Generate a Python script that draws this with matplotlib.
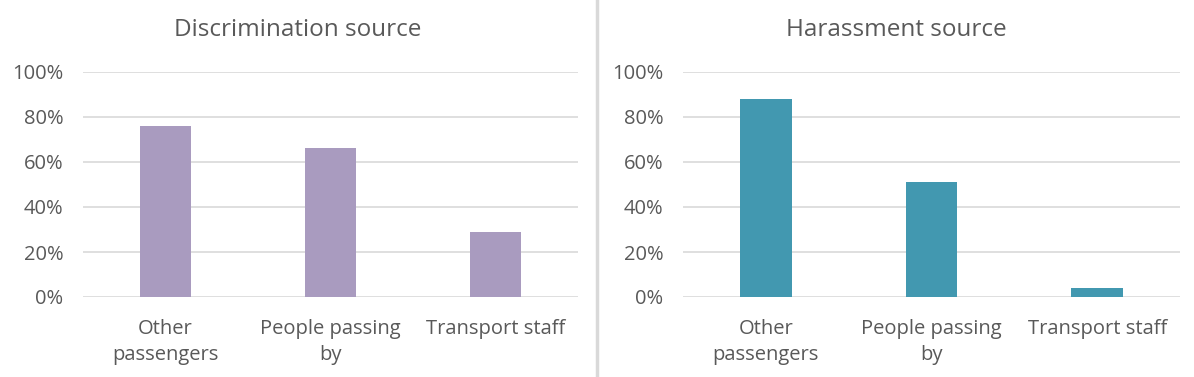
import matplotlib.pyplot as plt
from matplotlib.ticker import PercentFormatter
from matplotlib.lines import Line2D

categories = ["Other\npassengers", "People passing\nby", "Transport staff"]
discrimination = [76, 66, 29]
harassment = [88, 51, 4]

titles = ["Discrimination source", "Harassment source"]
colors = ["#A99BBF", "#4298B0"]
text_color = "#595959"
grid_color = "#D9D9D9"

plt.rcParams['font.family'] = ['Open Sans', 'DejaVu Sans']

fig = plt.figure(figsize=(11.94, 3.77), dpi=100)
W, H = 1194, 377
rects = [[83 / W, 80 / H, 495 / W, 225 / H],
         [683 / W, 80 / H, 497 / W, 225 / H]]
title_x = [298 / W, 896 / W]

for rect, vals, title, col, tx in zip(rects, [discrimination, harassment], titles, colors, title_x):
    ax = fig.add_axes(rect)
    x = range(len(categories))
    ax.bar(x, vals, width=0.31, color=col, zorder=3)
    ax.set_xlim(-0.5, 2.5)
    ax.set_ylim(0, 100)
    ax.set_yticks([0, 20, 40, 60, 80, 100])
    ax.yaxis.set_major_formatter(PercentFormatter(decimals=0))
    ax.set_xticks(list(x))
    ax.set_xticklabels(categories, fontsize=14.5, color=text_color, linespacing=1.4)
    ax.tick_params(axis='y', labelsize=14.5, labelcolor=text_color, length=0, pad=14)
    ax.tick_params(axis='x', length=0, pad=16)
    ax.grid(axis='y', color=grid_color, linewidth=1.2, zorder=0)
    for s in ax.spines.values():
        s.set_visible(False)
    fig.text(tx, 1 - 30 / H, title, fontsize=17.5, color=text_color,
             ha='center', va='center')

fig.add_artist(Line2D([597 / W, 597 / W], [0, 1], color=grid_color, linewidth=2.5,
                      transform=fig.transFigure))

fig.savefig("out.png", dpi=100)
